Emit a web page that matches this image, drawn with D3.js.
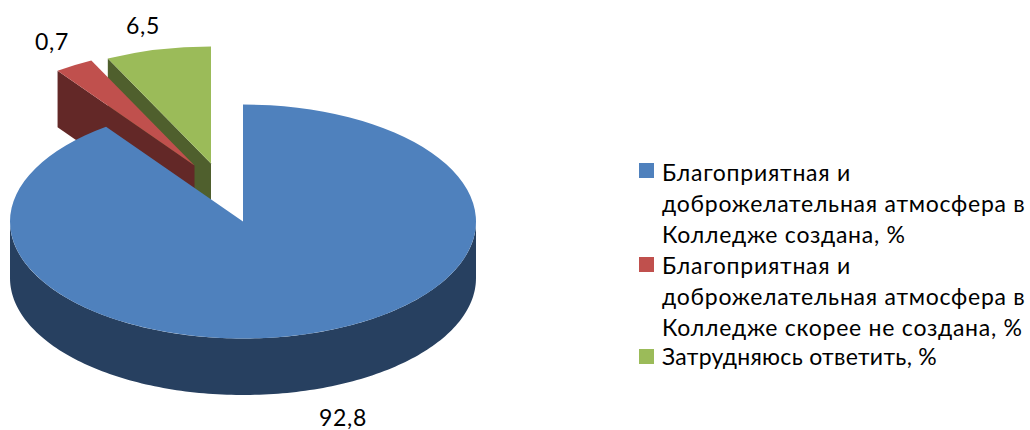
<!DOCTYPE html>
<html>
<head>
<meta charset="utf-8">
<script src="https://cdn.jsdelivr.net/npm/d3@7"></script>
<style>
    html, body { margin: 0; padding: 0; background: #fff; }
    text { font-family: Lato, "Open Sans", sans-serif; fill: #000; font-size: 23px; letter-spacing: 0.75px; }
</style>
</head>
<body>
<div class="visual"></div>
<script>
// Data
const categories = [
    ["Благоприятная и", "доброжелательная атмосфера в", "Колледже создана, %"],
    ["Благоприятная и", "доброжелательная атмосфера в", "Колледже скорее не создана, %"],
    ["Затрудняюсь ответить, %"]
];
// Printed labels of the chart
const labelValues = ["92,8", "0,7", "6,5"];
// Slice sizes as drawn (%), the drawing does not follow the printed labels exactly
const sliceShares = [90, 2.7, 7.3];

const topColors = ["#4f81bd", "#c0504d", "#9bbb59"];
const sideColors = ["#274060", "#632827", "#4f5f2d"];

function createChart() {
    const width = 1030, height = 430;
    const rx = 233, ry = 117, depth = 56.5;
    const center = { x: 243, y: 221.5 };
    // Explode offset of each slice
    const offsets = [[0, 0], [-48.5, -56], [-32, -58]];
    const labelPos = [[343, 426], [52, 50], [143, 34]];
    const legendTop = [163, 257, 349];
    const legendBaseline = [18, 17, 16];
    const legendSpacing = ["0.75px", "0.75px", "0.3px"];

    const svg = d3.select("div.visual").append("svg")
        .attr("width", width)
        .attr("height", height)
        .style("display", "block");

    const slices = d3.pie().sort(null)(sliceShares);
    const arc = d3.arc().innerRadius(0).outerRadius(rx);
    const line = d3.line();

    // Point on the tilted ellipse, angle clockwise from 12 o'clock
    const pt = (a, dy = 0) => [rx * Math.sin(a), -ry * Math.cos(a) + dy];

    // Back slices first, blue in front
    [2, 1, 0].forEach(i => {
        const s = slices[i];
        const g = svg.append("g")
            .attr("transform", `translate(${center.x + offsets[i][0]},${center.y + offsets[i][1]})`);

        if (i === 0) {
            // Front rim
            const angles = d3.range(Math.PI / 2, 3 * Math.PI / 2 + 0.01, 0.02);
            const rim = angles.map(a => pt(a)).concat(angles.slice().reverse().map(a => pt(a, depth)));
            g.append("path").attr("d", line(rim) + "Z").attr("fill", sideColors[i]);
        } else {
            // Cut face on the left side of the wedge
            const a = s.startAngle;
            const face = [[0, 0], pt(a), pt(a, depth), [0, depth]];
            g.append("path").attr("d", line(face) + "Z").attr("fill", sideColors[i]);
        }

        g.append("path")
            .attr("d", arc(s))
            .attr("transform", `scale(1,${ry / rx})`)
            .attr("fill", topColors[i]);
    });

    // Value labels
    svg.selectAll(".value")
        .data(labelValues)
        .enter().append("text")
        .attr("class", "value")
        .attr("x", (d, i) => labelPos[i][0])
        .attr("y", (d, i) => labelPos[i][1])
        .attr("text-anchor", "middle")
        .text(d => d);

    // Legend
    const items = svg.selectAll(".legend")
        .data(categories)
        .enter().append("g")
        .attr("class", "legend")
        .attr("transform", (d, i) => `translate(639,${legendTop[i]})`);

    items.append("rect")
        .attr("width", 15)
        .attr("height", 15)
        .attr("fill", (d, i) => topColors[i]);

    items.each(function (lines, k) {
        d3.select(this).selectAll("text")
            .data(lines)
            .enter().append("text")
            .attr("x", 23)
            .attr("y", (d, i) => legendBaseline[k] + i * 31)
            .style("letter-spacing", legendSpacing[k])
            .text(d => d);
    });
}

createChart();
</script>
</body>
</html>
